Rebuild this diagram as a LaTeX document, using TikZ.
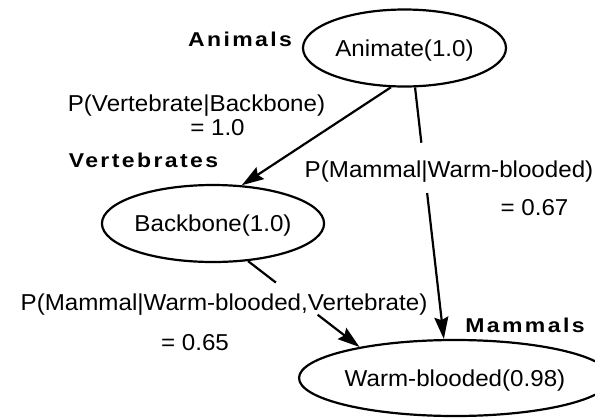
\documentclass[tikz,border=0pt]{standalone}
\usepackage{fontspec}
\setmainfont{Liberation Sans}[FakeStretch=1.05]
\newfontfamily\tagfont{Liberation Sans}[FakeStretch=1.15, LetterSpace=12]
\usetikzlibrary{shapes.geometric,arrows.meta}

\begin{document}
\begin{tikzpicture}[x=1pt, y=-1pt, line width=2.2pt,
    concept/.style={ellipse, draw, inner sep=0pt, text depth=0pt, font=\fontsize{23}{27}\selectfont},
    prob/.style={font=\fontsize{23}{27}\selectfont, inner sep=0pt, text depth=0pt},
    tag/.style={font=\tagfont\bfseries\fontsize{20}{24}\selectfont, inner sep=0pt},
    >={Stealth[length=22pt, width=14pt, inset=3pt]}]
  \useasboundingbox (0,0) rectangle (595,418);
  \node[concept, minimum width=203pt, minimum height=77pt] (animate) at (404.5,48) {Animate(1.0)};
  \node[concept, minimum width=200pt, minimum height=77pt] (backbone) at (213,223.5) {Backbone(1.0)};
  \node[concept, minimum width=276pt, minimum height=76pt] (warm) at (455,378) {Warm-blooded(0.98)};
  \node[tag] (animals) at (240,39) {Animals};
  \node[tag] (vertebrates) at (143.5,160) {Vertebrates};
  \node[tag] (mammals) at (525,325) {Mammals};
  \node[prob] (pvb) at (196.5,103) {P(Vertebrate|Backbone)};
  \node[prob] (pvbval) at (217.5,127) {= 1.0};
  \node[prob] (pmw) at (449,169) {P(Mammal|Warm-blooded)};
  \node[prob] (pmwval) at (534.5,207) {= 0.67};
  \node[prob] (pmwv) at (224,302) {P(Mammal|Warm-blooded,Vertebrate)};
  \node[prob] (pmwvval) at (195,342) {= 0.65};
  % connectors, broken where a label sits on them
  \draw[->] (animate.251) -- (backbone.53);
  \path (animate.285) -- (warm.106) coordinate[pos=0.22] (aw1) coordinate[pos=0.42] (aw2);
  \draw (animate.285) -- (aw1);
  \draw[->] (aw2) -- (warm.106);
  \path (backbone.313) -- (warm.162) coordinate[pos=0.25] (bw1) coordinate[pos=0.625] (bw2);
  \draw (backbone.313) -- (bw1);
  \draw[->] (bw2) -- (warm.162);
\end{tikzpicture}
\end{document}
